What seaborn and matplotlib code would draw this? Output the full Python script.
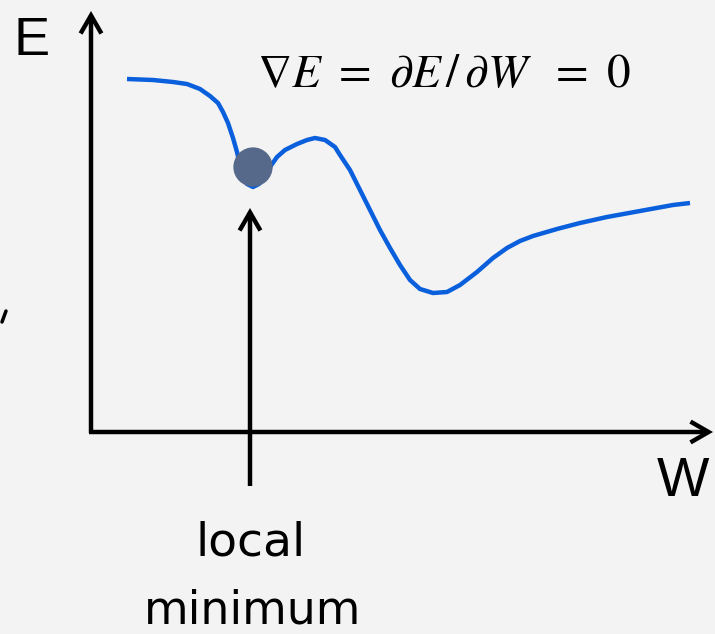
import matplotlib
matplotlib.use("Agg")
import matplotlib.pyplot as plt
import seaborn as sns
import pandas as pd

# Error surface E(W): one weight W, sampled along the curve
W_vals = [36, 62, 82, 96, 109, 119, 127, 132, 137, 142, 146, 149, 152, 156, 162,
          168, 174, 179, 186, 194, 206, 216, 224, 234, 244, 249, 259, 269, 279,
          289, 299, 309, 319, 329, 342, 356, 369, 386, 402, 416, 429, 442, 466,
          489, 516, 549, 582, 599]
E_vals = [353, 352, 350, 348, 343, 336, 329, 320, 309, 294, 280, 267, 257, 248, 245,
          248, 256, 265, 275, 282, 288, 292, 294, 292, 285, 277, 262, 242, 222,
          202, 184, 167, 152, 143, 139, 140, 147, 160, 174, 184, 191, 196, 203,
          209, 215, 221, 227, 229]

# the point resting in the local minimum
ball_W = [162]
ball_E = [265]

axis_label_E = "E"
axis_label_W = "W"
gradient_text = r"$\nabla E\ =\ \partial E\,/\,\partial W\ \ =\ 0$"
callout_lines = ["local", "minimum"]

sns.set_theme(style="white")
plt.rcParams["mathtext.fontset"] = "stix"

bg = "#f3f3f3"
fig = plt.figure(figsize=(7.15, 6.34), dpi=100, facecolor=bg)
ax = fig.add_axes([0, 0, 1, 1])
ax.set_facecolor(bg)
ax.set_xlim(-91, 624)
ax.set_ylim(-202, 432)
ax.axis("off")

curve = pd.DataFrame({"W": W_vals, "E": E_vals})
sns.lineplot(data=curve, x="W", y="E", ax=ax, color="#0a5fdc", linewidth=3.2,
             sort=False, estimator=None)
for ln in ax.lines:
    ln.set_solid_joinstyle("round")
    ln.set_solid_capstyle("butt")

ball = pd.DataFrame({"W": ball_W, "E": ball_E})
sns.scatterplot(data=ball, x="W", y="E", ax=ax, s=800, color="#56698a",
                edgecolor="none", zorder=5)

arrow_kw = dict(arrowstyle="->,head_length=1.3,head_width=0.75",
                color="black", lw=3.2, mutation_scale=10,
                shrinkA=0, shrinkB=0, capstyle="butt", joinstyle="miter")

# coordinate axes drawn as arrows
ax.annotate("", xy=(0, 421), xytext=(0, -1), arrowprops=arrow_kw)
ax.annotate("", xy=(622, 0), xytext=(-2, 0), arrowprops=arrow_kw)

# arrow pointing at the local minimum
ax.annotate("", xy=(159, 224), xytext=(159, -54), arrowprops=arrow_kw)

ax.text(-59, 391, axis_label_E, fontsize=39, family="Liberation Sans",
        ha="center", va="center", color="black")
ax.text(592, -50, axis_label_W, fontsize=40, family="Liberation Sans",
        ha="center", va="center", color="black")

ax.text(166, 358, gradient_text, fontsize=34, ha="left", va="center",
        color="black")

ax.text(160, -123, callout_lines[0], fontsize=34, family="DejaVu Sans",
        ha="center", va="baseline", color="black")
ax.text(162, -191, callout_lines[1], fontsize=33, family="DejaVu Sans",
        ha="center", va="baseline", color="black")

# small stroke at the left edge
ax.plot([-89, -85], [110, 121], color="black", lw=2.5, solid_capstyle="round")

fig.savefig("out.png", dpi=100, facecolor=bg)
